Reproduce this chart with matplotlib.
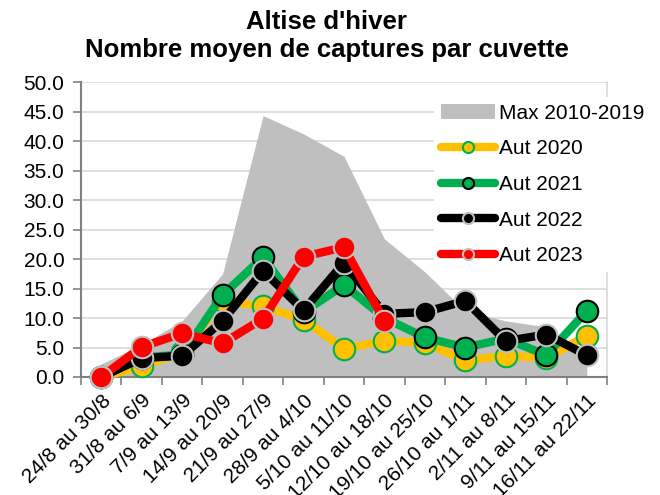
import matplotlib
matplotlib.use("Agg")
import matplotlib.pyplot as plt
from matplotlib.lines import Line2D
from matplotlib.patches import Patch
import numpy as np

categories = ["24/8 au 30/8", "31/8 au 6/9", "7/9 au 13/9", "14/9 au 20/9",
              "21/9 au 27/9", "28/9 au 4/10", "5/10 au 11/10", "12/10 au 18/10",
              "19/10 au 25/10", "26/10 au 1/11", "2/11 au 8/11", "9/11 au 15/11",
              "16/11 au 22/11"]
max_2010_2019 = [2.2, 5.5, 9.5, 17.5, 44.3, 41.2, 37.4, 23.4, 17.8, 11.2, 9.5, 8.5, 3.6]
aut_2020 = [0.0, 1.8, 4.2, 12.9, 12.0, 9.7, 4.8, 6.1, 5.8, 2.8, 3.6, 3.2, 7.0]
aut_2021 = [0.0, 3.3, 3.8, 13.9, 20.3, 11.0, 15.6, 10.0, 6.7, 5.0, 6.5, 3.7, 11.2]
aut_2022 = [0.0, 3.2, 3.6, 9.5, 18.0, 11.3, 19.4, 10.7, 11.0, 12.9, 6.1, 7.2, 3.7]
aut_2023 = [0.0, 5.1, 7.4, 5.7, 9.9, 20.4, 22.0, 9.5]

plt.rcParams['font.family'] = ['Liberation Sans', 'DejaVu Sans']

fig = plt.figure(figsize=(6.6, 4.95), dpi=100)
ax = fig.add_axes([81/660, 1-377/495, (607-81)/660, (377-82)/495])

x = np.arange(len(categories))
grey = '#BFBFBF'
ax.fill_between(x, max_2010_2019, 0, color=grey, lw=0, zorder=1)

series = [
    (aut_2020, '#FFC000', '#FFC000', '#00B050', 'Aut 2020'),
    (aut_2021, '#00B050', '#00B050', '#000000', 'Aut 2021'),
    (aut_2022, '#000000', '#000000', '#BFBFBF', 'Aut 2022'),
    (aut_2023, '#FF0000', '#FF0000', '#BFBFBF', 'Aut 2023'),
]
handles = [Patch(facecolor=grey, edgecolor='none', label='Max 2010-2019')]
for i, (vals, lc, fc, ec, lab) in enumerate(series):
    xi = np.arange(len(vals))
    ax.plot(xi, vals, color=lc, lw=6, marker='o', ms=15.5, mfc=fc, mec=ec,
            mew=1.5, zorder=3 + i, solid_capstyle='round', clip_on=False)
    handles.append(Line2D([0], [0], color=lc, lw=6, marker='o', ms=8, mfc=fc,
                          mec=ec, mew=1.5, solid_capstyle='round', label=lab))

ax.set_xlim(-0.5, len(categories) - 0.5)
ax.set_ylim(0, 50)
ax.set_yticks(np.arange(0, 50.1, 5))
ax.set_yticklabels([f"{v:.1f}" for v in np.arange(0, 50.1, 5)], fontsize=15)
ax.set_xticks(x)
ax.set_xticklabels(categories, rotation=45, ha='right', rotation_mode='anchor', fontsize=15)
ax.set_xticks(np.arange(-0.5, len(categories)), minor=True)
ax.tick_params(axis='x', which='major', length=0, pad=10)
ax.tick_params(axis='x', which='minor', length=6, color='#808080', width=1.2)
ax.tick_params(axis='y', length=6, color='#808080', width=1.2, pad=6)
ax.grid(axis='y', color='#D9D9D9', lw=1.2, zorder=0)
ax.set_axisbelow(True)
for s in ['left', 'bottom']:
    ax.spines[s].set_color('#808080')
    ax.spines[s].set_linewidth(1.5)
ax.spines['top'].set_visible(False)
ax.spines['right'].set_color('#D9D9D9')
ax.spines['right'].set_linewidth(1.2)

leg = fig.legend(handles=handles, loc='upper left', bbox_to_anchor=(424/660, 1-87/495),
                 fontsize=15, frameon=True, fancybox=False, framealpha=1,
                 edgecolor='none', handlelength=2.6, handleheight=0.7,
                 handletextpad=0.2, labelspacing=0.8, borderpad=0.3)
leg.set_zorder(10)

fig.text(0.495, 1-22/495, "Altise d'hiver", ha='center', va='center', fontsize=18.5, fontweight='bold')
fig.text(0.495, 1-50/495, "Nombre moyen de captures par cuvette", ha='center', va='center',
         fontsize=18.5, fontweight='bold')

fig.savefig('out.png', dpi=100)
